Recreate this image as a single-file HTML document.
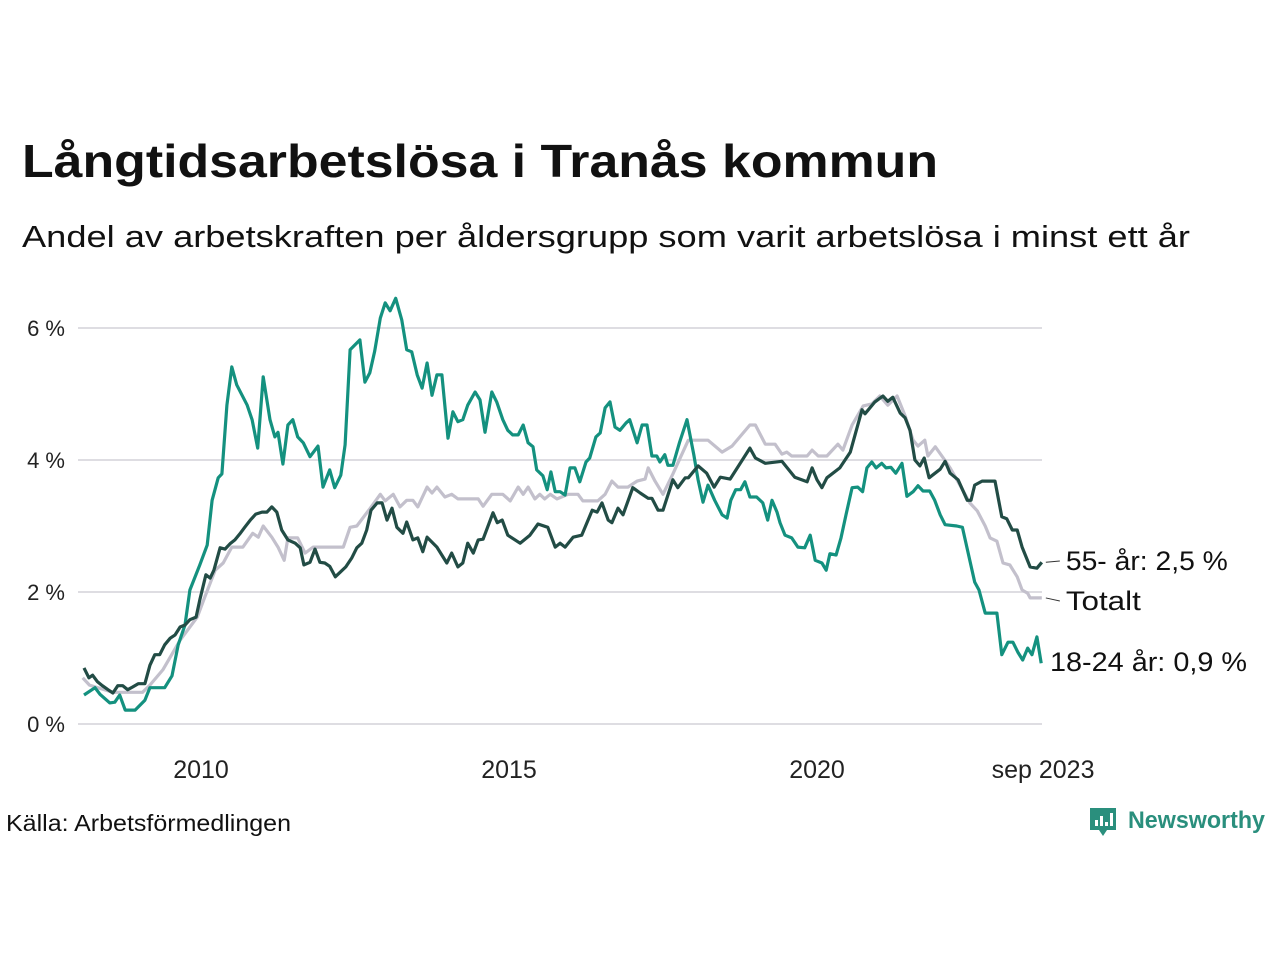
<!DOCTYPE html>
<html><head><meta charset="utf-8"><style>
html,body{margin:0;padding:0;background:#fff;}
svg{display:block;font-family:"Liberation Sans","DejaVu Sans",sans-serif;}
</style></head><body>
<svg id="chart" width="1280" height="960" viewBox="0 0 1280 960" xmlns="http://www.w3.org/2000/svg">
<text x="22" y="177" font-size="46" font-weight="bold" fill="#111" textLength="916" lengthAdjust="spacingAndGlyphs">Långtidsarbetslösa i Tranås kommun</text>
<text x="22" y="247" font-size="31" fill="#111" textLength="1168" lengthAdjust="spacingAndGlyphs">Andel av arbetskraften per åldersgrupp som varit arbetslösa i minst ett år</text>
<g id="grid"></g>
<g id="series"></g>
<g id="labels"></g>
<text x="6" y="831" font-size="23" fill="#111" textLength="285" lengthAdjust="spacingAndGlyphs">Källa: Arbetsförmedlingen</text>
<g>
<path d="M1090 808 h26 v22 h-9 l-4 6 l-4 -6 h-9 z" fill="#2a8f7d"/>
<rect x="1095" y="820" width="3" height="6" fill="#fff"/><rect x="1100" y="816" width="3" height="10" fill="#fff"/><rect x="1105" y="822" width="3" height="4" fill="#fff"/><rect x="1110" y="813" width="3" height="13" fill="#fff"/>
<text x="1128" y="828" font-size="24" font-weight="bold" fill="#2a8f7d" textLength="137" lengthAdjust="spacingAndGlyphs">Newsworthy</text>
</g>
</svg>
<script>
const yTicks=[0,2,4,6];
const xTicks=[2010,2015,2020];
const xTickLabels=["2010","2015","2020"];
const youthYears=[2008.10,2008.28,2008.36,2008.52,2008.60,2008.68,2008.77,2008.93,2009.09,2009.17,2009.41,2009.53,2009.63,2009.74,2009.82,2009.98,2010.10,2010.18,2010.28,2010.34,2010.42,2010.50,2010.58,2010.75,2010.83,2010.92,2011.01,2011.12,2011.20,2011.25,2011.33,2011.41,2011.49,2011.57,2011.66,2011.77,2011.90,2011.98,2012.09,2012.17,2012.27,2012.34,2012.42,2012.58,2012.66,2012.74,2012.82,2012.91,2012.99,2013.07,2013.16,2013.26,2013.34,2013.42,2013.51,2013.59,2013.67,2013.75,2013.83,2013.91,2014.01,2014.09,2014.17,2014.25,2014.33,2014.45,2014.53,2014.61,2014.72,2014.80,2014.90,2014.98,2015.06,2015.15,2015.23,2015.31,2015.39,2015.45,2015.55,2015.62,2015.68,2015.75,2015.83,2015.91,2015.99,2016.07,2016.15,2016.25,2016.31,2016.41,2016.48,2016.56,2016.64,2016.72,2016.80,2016.90,2016.96,2017.08,2017.16,2017.24,2017.32,2017.40,2017.45,2017.53,2017.58,2017.66,2017.77,2017.89,2018.00,2018.07,2018.15,2018.23,2018.34,2018.46,2018.54,2018.60,2018.68,2018.76,2018.83,2018.91,2019.02,2019.12,2019.20,2019.27,2019.35,2019.40,2019.48,2019.59,2019.69,2019.80,2019.89,2019.97,2020.08,2020.15,2020.21,2020.31,2020.39,2020.47,2020.57,2020.66,2020.74,2020.81,2020.89,2020.96,2021.05,2021.12,2021.20,2021.28,2021.38,2021.46,2021.56,2021.64,2021.72,2021.83,2021.91,2022.00,2022.08,2022.27,2022.36,2022.48,2022.56,2022.63,2022.73,2022.92,2023.00,2023.10,2023.18,2023.26,2023.34,2023.42,2023.49,2023.57,2023.64];
const youthValues=[.44,.55,.45,.32,.33,.44,.21,.21,.36,.55,.55,.73,1.2,1.5,2.03,2.41,2.71,3.39,3.73,3.79,4.83,5.41,5.14,4.83,4.61,4.18,5.26,4.61,4.35,4.42,3.94,4.53,4.61,4.35,4.26,4.05,4.21,3.59,3.85,3.58,3.77,4.23,5.67,5.82,5.18,5.32,5.65,6.15,6.38,6.26,6.45,6.12,5.67,5.64,5.29,5.09,5.47,4.98,5.29,5.29,4.33,4.73,4.58,4.61,4.83,5.03,4.91,4.42,5.03,4.88,4.61,4.45,4.38,4.38,4.53,4.26,4.2,3.85,3.76,3.55,3.82,3.52,3.52,3.47,3.88,3.88,3.67,3.97,4.03,4.35,4.41,4.79,4.88,4.5,4.45,4.56,4.61,4.26,4.53,4.53,4.06,4.06,3.97,4.08,3.92,3.92,4.27,4.61,4.08,3.7,3.36,3.62,3.39,3.17,3.12,3.39,3.55,3.55,3.67,3.44,3.44,3.35,3.09,3.39,3.21,3.05,2.86,2.82,2.68,2.67,2.86,2.48,2.44,2.33,2.58,2.56,2.82,3.17,3.58,3.59,3.52,3.88,3.97,3.88,3.95,3.88,3.89,3.8,3.95,3.45,3.52,3.61,3.53,3.53,3.39,3.17,3.02,3.0,2.98,2.48,2.15,2.03,1.68,1.68,1.05,1.24,1.24,1.09,0.97,1.15,1.05,1.32,0.92];
const olderYears=[2008.10,2008.18,2008.24,2008.32,2008.40,2008.49,2008.57,2008.65,2008.73,2008.81,2008.89,2008.98,2009.09,2009.17,2009.25,2009.33,2009.41,2009.50,2009.58,2009.66,2009.74,2009.82,2009.92,2009.98,2010.08,2010.15,2010.21,2010.31,2010.39,2010.47,2010.55,2010.63,2010.71,2010.80,2010.89,2010.99,2011.07,2011.15,2011.23,2011.31,2011.41,2011.53,2011.61,2011.67,2011.77,2011.85,2011.93,2012.01,2012.09,2012.18,2012.26,2012.35,2012.45,2012.53,2012.61,2012.69,2012.76,2012.86,2012.94,2013.02,2013.10,2013.18,2013.28,2013.34,2013.44,2013.52,2013.60,2013.67,2013.83,2013.99,2014.07,2014.17,2014.25,2014.33,2014.42,2014.50,2014.58,2014.74,2014.81,2014.89,2014.98,2015.18,2015.34,2015.47,2015.63,2015.75,2015.83,2015.91,2016.04,2016.18,2016.35,2016.43,2016.51,2016.61,2016.67,2016.77,2016.85,2017.01,2017.13,2017.26,2017.32,2017.42,2017.50,2017.66,2017.74,2017.86,2017.91,2018.07,2018.21,2018.33,2018.43,2018.59,2018.91,2019.00,2019.16,2019.43,2019.64,2019.84,2019.92,2020.00,2020.08,2020.16,2020.37,2020.54,2020.73,2020.78,2020.94,2021.07,2021.15,2021.23,2021.35,2021.43,2021.51,2021.59,2021.67,2021.74,2021.82,2022.00,2022.08,2022.16,2022.29,2022.44,2022.50,2022.56,2022.68,2022.89,2023.00,2023.08,2023.17,2023.25,2023.33,2023.46,2023.57,2023.65];
const olderValues=[.85,.70,.74,.64,.58,.52,.47,.58,.58,.52,.56,.61,.61,.89,1.05,1.05,1.2,1.3,1.35,1.47,1.5,1.58,1.62,1.88,2.26,2.21,2.33,2.67,2.65,2.73,2.79,2.88,2.98,3.09,3.18,3.21,3.21,3.29,3.21,2.94,2.79,2.74,2.67,2.41,2.45,2.65,2.45,2.44,2.39,2.23,2.30,2.38,2.52,2.67,2.74,2.94,3.24,3.35,3.35,3.09,3.27,2.98,2.89,3.06,2.79,2.82,2.61,2.83,2.68,2.44,2.59,2.38,2.44,2.74,2.59,2.79,2.80,3.20,3.05,3.09,2.86,2.74,2.86,3.03,2.98,2.68,2.74,2.68,2.83,2.86,3.24,3.21,3.35,3.09,3.05,3.27,3.17,3.58,3.50,3.42,3.42,3.24,3.24,3.70,3.58,3.73,3.73,3.91,3.80,3.59,3.74,3.71,4.18,4.03,3.95,3.98,3.74,3.67,3.88,3.70,3.58,3.73,3.88,4.12,4.76,4.70,4.88,4.97,4.89,4.95,4.71,4.64,4.45,4.0,3.91,4.03,3.73,3.86,3.98,3.80,3.70,3.39,3.39,3.62,3.68,3.68,3.14,3.11,2.94,2.94,2.68,2.38,2.36,2.45];
const totalYears=[2008.08,2008.19,2008.57,2009.05,2009.17,2009.38,2009.66,2009.94,2010.06,2010.23,2010.36,2010.50,2010.68,2010.84,2010.93,2011.01,2011.15,2011.25,2011.35,2011.41,2011.57,2011.69,2011.82,2012.31,2012.42,2012.53,2012.74,2012.91,2012.99,2013.12,2013.23,2013.34,2013.44,2013.52,2013.67,2013.75,2013.83,2013.96,2014.07,2014.17,2014.50,2014.58,2014.72,2014.90,2015.02,2015.15,2015.23,2015.31,2015.42,2015.50,2015.58,2015.67,2015.78,2015.96,2016.12,2016.20,2016.44,2016.56,2016.67,2016.77,2016.93,2017.08,2017.21,2017.26,2017.37,2017.50,2017.66,2017.91,2018.23,2018.46,2018.62,2018.91,2019.00,2019.16,2019.32,2019.43,2019.51,2019.59,2019.84,2019.92,2020.02,2020.16,2020.34,2020.42,2020.57,2020.75,2020.89,2021.02,2021.15,2021.30,2021.43,2021.56,2021.64,2021.75,2021.80,2021.92,2022.05,2022.16,2022.32,2022.48,2022.60,2022.73,2022.81,2022.92,2023.02,2023.13,2023.25,2023.33,2023.42,2023.46,2023.65];
const totalValues=[.70,.59,.48,.48,.59,.82,1.27,1.62,1.92,2.33,2.44,2.68,2.68,2.89,2.83,3.0,2.83,2.68,2.48,2.82,2.82,2.59,2.68,2.68,2.98,3.0,3.26,3.48,3.38,3.48,3.29,3.39,3.39,3.29,3.59,3.50,3.59,3.44,3.48,3.41,3.41,3.30,3.48,3.48,3.38,3.59,3.48,3.59,3.41,3.48,3.41,3.48,3.41,3.48,3.48,3.38,3.38,3.48,3.68,3.59,3.59,3.68,3.71,3.88,3.68,3.48,3.79,4.3,4.3,4.12,4.21,4.53,4.53,4.24,4.24,4.09,4.12,4.06,4.06,4.15,4.06,4.06,4.24,4.15,4.53,4.82,4.85,4.97,4.83,4.97,4.67,4.3,4.21,4.3,4.06,4.2,4.03,3.88,3.62,3.35,3.23,3.0,2.82,2.77,2.44,2.41,2.23,2.03,1.98,1.91,1.91];

const NS="http://www.w3.org/2000/svg";
const X0=201, PXY=61.6, Y0=724, PXV=66;
function xs(yr){return X0+(yr-2010)*PXY;}
function ys(v){return Y0-v*PXV;}
const grid=document.getElementById('grid');
yTicks.forEach(t=>{
  const l=document.createElementNS(NS,'line');
  
  
  l.setAttribute('x1',78);l.setAttribute('x2',1042);
  l.setAttribute('y1',ys(t));l.setAttribute('y2',ys(t));
  l.setAttribute('stroke','#dedde2');l.setAttribute('stroke-width','2');
  grid.appendChild(l);
  const tx=document.createElementNS(NS,'text');
  
  
  tx.setAttribute('x',65);tx.setAttribute('y',ys(t)+8);
  tx.setAttribute('text-anchor','end');tx.setAttribute('font-size','22');tx.setAttribute('fill','#222');
  tx.textContent=t+' %';grid.appendChild(tx);
});
xTicks.forEach((t,i)=>{
  const tx=document.createElementNS(NS,'text');
  
  
  tx.setAttribute('x',xs(t));tx.setAttribute('y',778);
  tx.setAttribute('text-anchor','middle');tx.setAttribute('font-size','25');tx.setAttribute('fill','#222');
  tx.textContent=xTickLabels[i];grid.appendChild(tx);
});
const lastTx=document.createElementNS(NS,'text');


lastTx.setAttribute('x',xs(2023.67));lastTx.setAttribute('y',778);
lastTx.setAttribute('text-anchor','middle');lastTx.setAttribute('font-size','25');lastTx.setAttribute('fill','#222');
lastTx.textContent='sep 2023';grid.appendChild(lastTx);

const ser=document.getElementById('series');
function draw(name,yrs,vals,color){
  const n=Math.min(yrs.length,vals.length);
  let d='';
  for(let i=0;i<n;i++){d+=(i?'L':'M')+xs(yrs[i]).toFixed(1)+' '+ys(vals[i]).toFixed(1);}
  const p=document.createElementNS(NS,'path');
  
  
  p.setAttribute('d',d);p.setAttribute('fill','none');p.setAttribute('stroke',color);
  p.setAttribute('stroke-width','3.2');p.setAttribute('stroke-linejoin','round');
  ser.appendChild(p);
  return [xs(yrs[n-1]),ys(vals[n-1])];
}
const tEnd=draw('line-totalt',totalYears,totalValues,'#c3c0cc');
const yEnd=draw('line-18-24',youthYears,youthValues,'#14917f');
const oEnd=draw('line-55',olderYears,olderValues,'#224c45');

const lab=document.getElementById('labels');
function label(name,txt,x,y,ly,w){
  const l=document.createElementNS(NS,'line');
  
  
  l.setAttribute('x1',x+4);l.setAttribute('y1',ly);l.setAttribute('x2',x+18);l.setAttribute('y2',y-9);
  l.setAttribute('stroke','#333');l.setAttribute('stroke-width','1');
  lab.appendChild(l);
  const t=document.createElementNS(NS,'text');
  
  
  t.setAttribute('x',x+24);t.setAttribute('y',y);t.setAttribute('font-size','27');t.setAttribute('fill','#111');
  t.setAttribute('textLength',w);t.setAttribute('lengthAdjust','spacingAndGlyphs');
  t.textContent=txt;lab.appendChild(t);
}
label('label-55','55- år: 2,5 %',oEnd[0],570,oEnd[1],162);
label('label-totalt','Totalt',tEnd[0],610,tEnd[1],75);
const yl=document.createElementNS(NS,'text');


yl.setAttribute('x',1050);yl.setAttribute('y',671);yl.setAttribute('font-size','27');yl.setAttribute('fill','#111');
yl.setAttribute('textLength',197);yl.setAttribute('lengthAdjust','spacingAndGlyphs');
yl.textContent='18-24 år: 0,9 %';lab.appendChild(yl);
</script>
</body></html>
